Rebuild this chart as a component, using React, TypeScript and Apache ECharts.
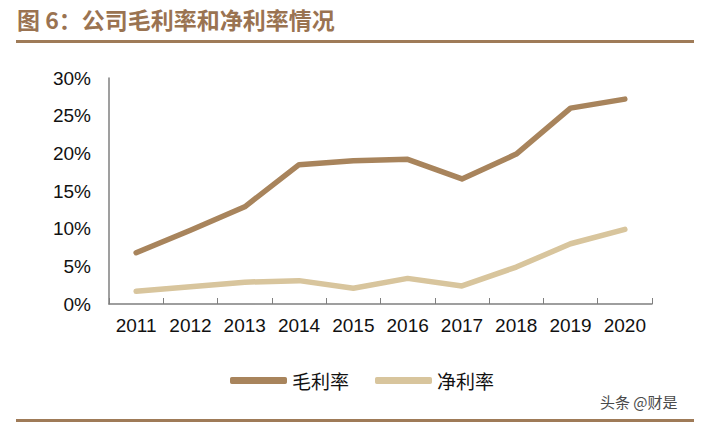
import { useRef, useEffect } from "react";
import * as echarts from "echarts";

const YEARS = ["2011", "2012", "2013", "2014", "2015", "2016", "2017", "2018", "2019", "2020"];
const GROSS_MARGIN = [6.8, 9.8, 12.9, 18.5, 19.0, 19.2, 16.6, 19.9, 26.0, 27.2];
const NET_MARGIN = [1.7, 2.3, 2.9, 3.1, 2.1, 3.4, 2.4, 4.9, 8.0, 9.9];
const SERIES_NAMES = ["毛利率", "净利率"];
const TITLE = "图 6：公司毛利率和净利率情况";
const SOURCE = "头条 @财是";

const BROWN = "#a8845c";
const TAN = "#d8c59d";
const RULE = "#9f7b58";

export default function App() {
  const ref = useRef<HTMLDivElement>(null);

  useEffect(() => {
    if (!ref.current) return;
    const chart = echarts.init(ref.current, null, { renderer: "svg" });
    chart.setOption({
      animation: false,
      backgroundColor: "#ffffff",
      textStyle: { fontFamily: "'Liberation Sans', Arial, sans-serif" },
      grid: { left: 109, right: 52, top: 78, bottom: 120 },
      graphic: [
        {
          type: "text", left: 17, top: 7,
          style: {
            text: TITLE, fill: "#9a7351",
            font: "bold 23px 'Noto Sans CJK SC', sans-serif",
          },
        },
        { type: "rect", shape: { x: 16, y: 40, width: 678, height: 3 }, style: { fill: RULE } },
        { type: "rect", shape: { x: 16, y: 419, width: 678, height: 3 }, style: { fill: RULE } },
        {
          type: "text", left: 600, top: 394,
          style: {
            text: SOURCE, fill: "#4a4a4a",
            font: "15px 'Noto Sans CJK SC', sans-serif",
          },
        },
      ],
      legend: {
        left: 225, top: 366,
        icon: "roundRect", itemWidth: 57, itemHeight: 7, itemGap: 26,
        data: SERIES_NAMES,
        textStyle: { fontSize: 19, color: "#111", fontFamily: "'Noto Sans CJK SC', sans-serif" },
      },
      xAxis: {
        type: "category", data: YEARS, boundaryGap: true,
        axisLine: { lineStyle: { color: "#7f7f7f", width: 1.5 } },
        axisTick: { show: true, inside: true, length: 6, lineStyle: { color: "#7f7f7f" } },
        axisLabel: { fontSize: 19, color: "#111", margin: 12, interval: 0 },
        splitLine: { show: false },
      },
      yAxis: {
        type: "value", min: 0, max: 30, interval: 5,
        axisLine: { show: true, lineStyle: { color: "#7f7f7f", width: 1.5 } },
        axisTick: { show: false },
        axisLabel: { fontSize: 19, color: "#111", margin: 18, formatter: "{value}%" },
        splitLine: { show: false },
      },
      series: [
        {
          name: SERIES_NAMES[0], type: "line", data: GROSS_MARGIN, showSymbol: false,
          symbol: "none", color: BROWN,
          lineStyle: { color: BROWN, width: 5.5, cap: "round", join: "round" },
        },
        {
          name: SERIES_NAMES[1], type: "line", data: NET_MARGIN, showSymbol: false,
          symbol: "none", color: TAN,
          lineStyle: { color: TAN, width: 5.5, cap: "round", join: "round" },
        },
      ],
    });
    return () => chart.dispose();
  }, []);

  return (
    <div
      ref={ref}
      style={{ position: "fixed", left: 0, top: 0, width: 704, height: 424 }}
    />
  );
}
